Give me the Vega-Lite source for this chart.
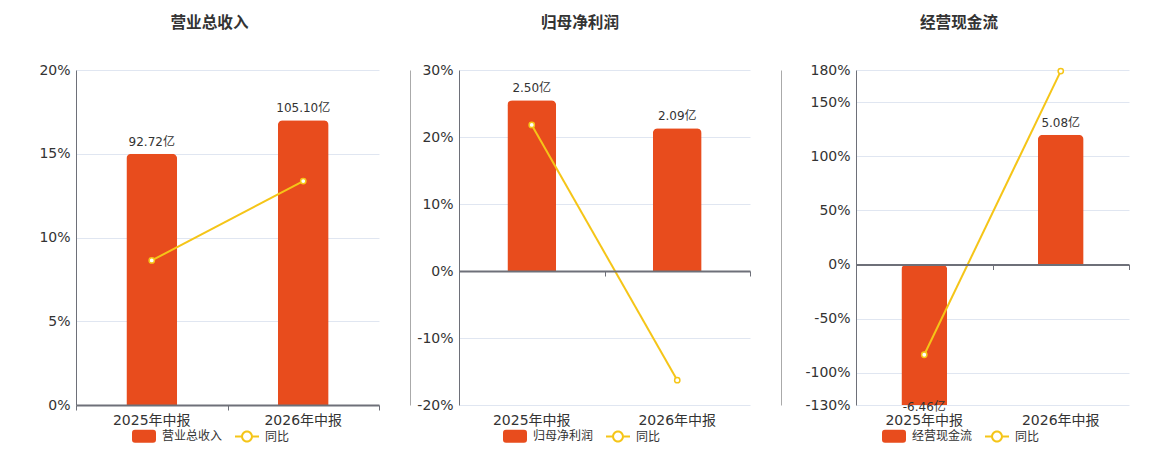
{
  "$schema": "https://vega.github.io/schema/vega-lite/v6.json",
  "description": "营业总收入 / 归母净利润 / 经营现金流 with 同比",
  "padding": {"left": 38, "top": 16, "right": 5, "bottom": 5},
  "spacing": 30,
  "hconcat": [
    {
      "width": 303,
      "height": 335,
      "title": {"text": "营业总收入", "dx": -18},
      "data": {"values": [
        {"period": "2025年中报", "value": 92.72, "label": "92.72亿", "yoy": 8.63},
        {"period": "2026年中报", "value": 105.10, "label": "105.10亿", "yoy": 13.37}
      ]},
      "layer": [
        {
          "encoding": {
            "x": {"field": "period", "type": "nominal", "sort": null, "scale": {"paddingInner": 0, "paddingOuter": 0},
              "axis": {"orient": "bottom", "domain": false, "ticks": false, "tickSize": 0, "grid": false, "labelAngle": 0, "labelPadding": 8, "title": null}},
            "y": {"field": "value", "type": "quantitative", "scale": {"domain": [0, 123.63], "clamp": true, "nice": false, "zero": false}, "axis": null}
          },
          "layer": [
            {
              "mark": {"type": "bar", "width": {"band": 0.335}, "cornerRadiusEnd": 5},
              "encoding": {
                "color": {"datum": "营业总收入", "type": "nominal",
                  "scale": {"domain": ["营业总收入", "同比"], "range": ["#E84C1D", "#F5C518"]},
                  "legend": {"orient": "none", "legendX": 56, "legendY": 354, "direction": "horizontal", "title": null,
                    "symbolSize": 576, "labelFontSize": 12, "labelColor": "#333", "labelOffset": 6, "columnPadding": 12, "padding": 0,
                    "encode": {"symbols": {"update": {
                      "shape": {"signal": "datum.value === '同比' ? 'M-1,-0.083L-0.5,-0.083L-0.5,0.083L-1,0.083Z M0.5,-0.083L1,-0.083L1,0.083L0.5,0.083Z M0.5,0A0.5,0.5,0,1,1,-0.5,0A0.5,0.5,0,1,1,0.5,0Z M0.33,0A0.33,0.33,0,1,0,-0.33,0A0.33,0.33,0,1,0,0.33,0Z' : 'M-0.75,-0.54L0.75,-0.54Q1,-0.54,1,-0.29L1,0.29Q1,0.54,0.75,0.54L-0.75,0.54Q-1,0.54,-1,0.29L-1,-0.29Q-1,-0.54,-0.75,-0.54Z'"},
                      "fill": {"signal": "datum.value === '同比' ? '#F5C518' : '#E84C1D'"},
                      "stroke": {"value": "transparent"},
                      "strokeWidth": {"value": 0},
                      "opacity": {"value": 1}
                    }}}
                  }}
              }
            },
            {
              "transform": [{"filter": "datum.value >= 0"}],
              "mark": {"type": "text", "baseline": "bottom", "dy": -5, "fontSize": 12, "color": "#333"},
              "encoding": {"text": {"field": "label"}}
            },
            {
              "transform": [{"filter": "datum.value < 0"}],
              "mark": {"type": "text", "baseline": "top", "dy": -3, "fontSize": 12, "color": "#333"},
              "encoding": {"text": {"field": "label"}}
            }
          ]
        },
        {
          "encoding": {
            "x": {"field": "period", "type": "nominal", "sort": null, "scale": {"paddingInner": 0, "paddingOuter": 0},
              "axis": {"orient": "bottom", "labels": false, "ticks": true, "tickBand": "extent", "tickSize": 5, "tickColor": "#6E7079",
                "domain": true, "domainColor": "#6E7079", "domainWidth": 2, "grid": false, "offset": 0, "title": null, "zindex": 1}},
            "y": {"field": "yoy", "type": "quantitative", "scale": {"domain": [0, 20], "nice": false},
              "axis": {"orient": "left", "values": [0, 5, 10, 15, 20], "labelExpr": "datum.value + '%'", "title": null,
                "ticks": false, "tickSize": 0, "labelPadding": 6, "domainColor": "#6E7079", "grid": true}}
          },
          "layer": [
            {"mark": {"type": "line", "strokeWidth": 2}, "encoding": {"color": {"datum": "同比", "type": "nominal"}}},
            {"mark": {"type": "point", "filled": true, "fill": "white", "stroke": "#F5C518", "strokeWidth": 1.5, "size": 28, "opacity": 1}}
          ]
        }
      ],
      "resolve": {"scale": {"y": "independent"}, "axis": {"x": "independent"}}
    },
    {
      "width": 291,
      "height": 335,
      "title": {"text": "归母净利润", "dx": -24.5},
      "data": {"values": [
        {"period": "2025年中报", "value": 2.50, "label": "2.50亿", "yoy": 21.8},
        {"period": "2026年中报", "value": 2.09, "label": "2.09亿", "yoy": -16.3}
      ]},
      "layer": [
        {
          "encoding": {
            "x": {"field": "period", "type": "nominal", "sort": null, "scale": {"paddingInner": 0, "paddingOuter": 0},
              "axis": {"orient": "bottom", "domain": false, "ticks": false, "tickSize": 0, "grid": false, "labelAngle": 0, "labelPadding": 8, "title": null}},
            "y": {"field": "value", "type": "quantitative", "scale": {"domain": [-1.961, 2.941], "clamp": true, "nice": false, "zero": false},
              "axis": {"orient": "left", "offset": 49, "labels": false, "ticks": false, "grid": false, "title": null, "domainColor": "#AAAAAA", "domainWidth": 1}}
          },
          "layer": [
            {
              "mark": {"type": "bar", "width": {"band": 0.335}, "cornerRadiusEnd": 5},
              "encoding": {
                "color": {"datum": "归母净利润", "type": "nominal",
                  "scale": {"domain": ["归母净利润", "同比"], "range": ["#E84C1D", "#F5C518"]},
                  "legend": {"orient": "none", "legendX": 44, "legendY": 354, "direction": "horizontal", "title": null,
                    "symbolSize": 576, "labelFontSize": 12, "labelColor": "#333", "labelOffset": 6, "columnPadding": 12, "padding": 0,
                    "encode": {"symbols": {"update": {
                      "shape": {"signal": "datum.value === '同比' ? 'M-1,-0.083L-0.5,-0.083L-0.5,0.083L-1,0.083Z M0.5,-0.083L1,-0.083L1,0.083L0.5,0.083Z M0.5,0A0.5,0.5,0,1,1,-0.5,0A0.5,0.5,0,1,1,0.5,0Z M0.33,0A0.33,0.33,0,1,0,-0.33,0A0.33,0.33,0,1,0,0.33,0Z' : 'M-0.75,-0.54L0.75,-0.54Q1,-0.54,1,-0.29L1,0.29Q1,0.54,0.75,0.54L-0.75,0.54Q-1,0.54,-1,0.29L-1,-0.29Q-1,-0.54,-0.75,-0.54Z'"},
                      "fill": {"signal": "datum.value === '同比' ? '#F5C518' : '#E84C1D'"},
                      "stroke": {"value": "transparent"},
                      "strokeWidth": {"value": 0},
                      "opacity": {"value": 1}
                    }}}
                  }}
              }
            },
            {
              "transform": [{"filter": "datum.value >= 0"}],
              "mark": {"type": "text", "baseline": "bottom", "dy": -5, "fontSize": 12, "color": "#333"},
              "encoding": {"text": {"field": "label"}}
            },
            {
              "transform": [{"filter": "datum.value < 0"}],
              "mark": {"type": "text", "baseline": "top", "dy": -3, "fontSize": 12, "color": "#333"},
              "encoding": {"text": {"field": "label"}}
            }
          ]
        },
        {
          "encoding": {
            "x": {"field": "period", "type": "nominal", "sort": null, "scale": {"paddingInner": 0, "paddingOuter": 0},
              "axis": {"orient": "bottom", "labels": false, "ticks": true, "tickBand": "extent", "tickSize": 5, "tickColor": "#6E7079",
                "domain": true, "domainColor": "#6E7079", "domainWidth": 2, "grid": false, "offset": -134, "title": null, "zindex": 1}},
            "y": {"field": "yoy", "type": "quantitative", "scale": {"domain": [-20, 30], "nice": false},
              "axis": {"orient": "left", "values": [-20, -10, 0, 10, 20, 30], "labelExpr": "datum.value + '%'", "title": null,
                "ticks": false, "tickSize": 0, "labelPadding": 6, "domainColor": "#6E7079", "grid": true}}
          },
          "layer": [
            {"mark": {"type": "line", "strokeWidth": 2}, "encoding": {"color": {"datum": "同比", "type": "nominal"}}},
            {"mark": {"type": "point", "filled": true, "fill": "white", "stroke": "#F5C518", "strokeWidth": 1.5, "size": 28, "opacity": 1}}
          ]
        }
      ],
      "resolve": {"scale": {"y": "independent"}, "axis": {"x": "independent"}}
    },
    {
      "width": 273,
      "height": 335,
      "title": {"text": "经营现金流", "dx": -33.5},
      "data": {"values": [
        {"period": "2025年中报", "value": -6.46, "label": "-6.46亿", "yoy": -83.5},
        {"period": "2026年中报", "value": 5.08, "label": "5.08亿", "yoy": 179.0}
      ]},
      "layer": [
        {
          "encoding": {
            "x": {"field": "period", "type": "nominal", "sort": null, "scale": {"paddingInner": 0, "paddingOuter": 0},
              "axis": {"orient": "bottom", "domain": false, "ticks": false, "tickSize": 0, "grid": false, "labelAngle": 0, "labelPadding": 8, "title": null}},
            "y": {"field": "value", "type": "quantitative", "scale": {"domain": [-5.4987, 7.6137], "clamp": true, "nice": false, "zero": false},
              "axis": {"orient": "left", "offset": 75, "labels": false, "ticks": false, "grid": false, "title": null, "domainColor": "#AAAAAA", "domainWidth": 1}}
          },
          "layer": [
            {
              "mark": {"type": "bar", "width": {"band": 0.335}, "cornerRadiusEnd": 5},
              "encoding": {
                "color": {"datum": "经营现金流", "type": "nominal",
                  "scale": {"domain": ["经营现金流", "同比"], "range": ["#E84C1D", "#F5C518"]},
                  "legend": {"orient": "none", "legendX": 26, "legendY": 354, "direction": "horizontal", "title": null,
                    "symbolSize": 576, "labelFontSize": 12, "labelColor": "#333", "labelOffset": 6, "columnPadding": 12, "padding": 0,
                    "encode": {"symbols": {"update": {
                      "shape": {"signal": "datum.value === '同比' ? 'M-1,-0.083L-0.5,-0.083L-0.5,0.083L-1,0.083Z M0.5,-0.083L1,-0.083L1,0.083L0.5,0.083Z M0.5,0A0.5,0.5,0,1,1,-0.5,0A0.5,0.5,0,1,1,0.5,0Z M0.33,0A0.33,0.33,0,1,0,-0.33,0A0.33,0.33,0,1,0,0.33,0Z' : 'M-0.75,-0.54L0.75,-0.54Q1,-0.54,1,-0.29L1,0.29Q1,0.54,0.75,0.54L-0.75,0.54Q-1,0.54,-1,0.29L-1,-0.29Q-1,-0.54,-0.75,-0.54Z'"},
                      "fill": {"signal": "datum.value === '同比' ? '#F5C518' : '#E84C1D'"},
                      "stroke": {"value": "transparent"},
                      "strokeWidth": {"value": 0},
                      "opacity": {"value": 1}
                    }}}
                  }}
              }
            },
            {
              "transform": [{"filter": "datum.value >= 0"}],
              "mark": {"type": "text", "baseline": "bottom", "dy": -5, "fontSize": 12, "color": "#333"},
              "encoding": {"text": {"field": "label"}}
            },
            {
              "transform": [{"filter": "datum.value < 0"}],
              "mark": {"type": "text", "baseline": "top", "dy": -3, "fontSize": 12, "color": "#333"},
              "encoding": {"text": {"field": "label"}}
            }
          ]
        },
        {
          "encoding": {
            "x": {"field": "period", "type": "nominal", "sort": null, "scale": {"paddingInner": 0, "paddingOuter": 0},
              "axis": {"orient": "bottom", "labels": false, "ticks": true, "tickBand": "extent", "tickSize": 5, "tickColor": "#6E7079",
                "domain": true, "domainColor": "#6E7079", "domainWidth": 2, "grid": false, "offset": -140.5, "title": null, "zindex": 1}},
            "y": {"field": "yoy", "type": "quantitative", "scale": {"domain": [-130, 180], "nice": false},
              "axis": {"orient": "left", "values": [-130, -100, -50, 0, 50, 100, 150, 180], "labelExpr": "datum.value + '%'", "title": null,
                "ticks": false, "tickSize": 0, "labelPadding": 6, "domainColor": "#6E7079", "grid": true}}
          },
          "layer": [
            {"mark": {"type": "line", "strokeWidth": 2}, "encoding": {"color": {"datum": "同比", "type": "nominal"}}},
            {"mark": {"type": "point", "filled": true, "fill": "white", "stroke": "#F5C518", "strokeWidth": 1.5, "size": 28, "opacity": 1}}
          ]
        }
      ],
      "resolve": {"scale": {"y": "independent"}, "axis": {"x": "independent"}}
    }
  ],
  "resolve": {"scale": {"color": "independent"}, "legend": {"color": "independent"}},
  "config": {
    "font": "DejaVu Sans, Noto Sans CJK SC, sans-serif",
    "view": {"stroke": null},
    "title": {"fontSize": 15.6, "fontWeight": "bold", "color": "#333", "anchor": "middle", "frame": "group", "offset": 31, "baseline": "bottom"},
    "axis": {"labelFontSize": 14, "labelColor": "#333", "gridColor": "#E0E6F1", "gridWidth": 1, "domainColor": "#6E7079"}
  }
}
